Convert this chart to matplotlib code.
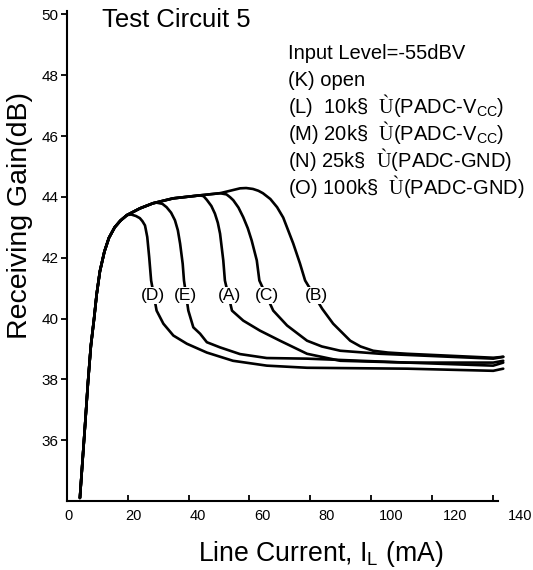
import numpy as np
import matplotlib
matplotlib.use("Agg")
import matplotlib.pyplot as plt

plt.rcParams['font.family'] = ['Liberation Sans', 'DejaVu Sans']
plt.rcParams['mathtext.fontset'] = 'custom'
plt.rcParams['mathtext.rm'] = 'Liberation Serif'
plt.rcParams['mathtext.sf'] = 'Liberation Sans'

# shared rising part of all curves (line current mA, gain dB)
rise_x = [3.4, 4.2, 5.0, 5.9, 6.8, 7.8, 8.6, 9.6, 11.0, 12.4, 14.2, 16.0, 18.0,
          22.0, 26.1, 32.3, 40.7, 46.9, 53.1]
rise_y = [34.1, 35.3, 36.5, 37.9, 39.1, 40.0, 40.8, 41.55, 42.2, 42.65, 43.0, 43.22, 43.4,
          43.62, 43.79, 43.95, 44.05, 44.12, 44.28]

# each curve leaves the rising part at its branch current
branch_at = {'D': 18.0, 'E': 26.1, 'A': 40.7, 'C': 46.9, 'B': 53.1}

d_x = [19.3, 20.8, 22.0, 22.8, 23.6, 23.9, 24.3, 24.9, 25.5, 27.2, 29.3, 32.4, 36.6,
       42.8, 50.9, 61.4, 73.9, 105, 131.7, 134.8]
d_y = [43.42, 43.37, 43.3, 43.2, 43.06, 42.9, 42.68, 42.02, 41.25, 40.26, 39.83, 39.44, 39.17,
       38.88, 38.61, 38.45, 38.38, 38.35, 38.28, 38.35]

e_x = [27.2, 29.0, 30.3, 31.7, 32.9, 33.8, 34.5, 35.3, 35.7, 37.05, 38.6, 40.7, 42.8,
       46.9, 53.1, 61.4, 73.9, 105, 131.7, 134.8]
e_y = [43.81, 43.77, 43.66, 43.48, 43.23, 42.9, 42.46, 41.80, 41.25, 40.26, 39.71, 39.50, 39.22,
       39.05, 38.83, 38.70, 38.68, 38.55, 38.45, 38.55]

a_x = [41.8, 42.8, 44.2, 45.3, 46.2, 46.9, 47.9, 48.4, 50.6, 54.1, 59.3, 65.5, 73.9,
       84.2, 105, 131.7, 134.8]
a_y = [44.02, 43.9, 43.7, 43.45, 43.15, 42.79, 41.91, 41.25, 40.26, 39.93, 39.60, 39.27, 38.84,
       38.61, 38.55, 38.55, 38.61]

c_x = [48.9, 50.0, 51.0, 52.6, 54.1, 55.5, 56.7, 58.3, 59.1, 63.4, 67.7, 73.9, 78.5,
       84.2, 96.6, 131.7, 134.8]
c_y = [44.08, 43.99, 43.89, 43.65, 43.33, 42.97, 42.57, 41.91, 41.25, 40.26, 39.77, 39.27, 39.08,
       38.94, 38.84, 38.68, 38.74]

b_x = [55.0, 57.1, 58.8, 60.2, 62.5, 64.6, 66.5, 69.6, 71.7, 73.3, 78.6, 82.0, 87.3,
       90.5, 94.4, 99.0, 105, 131.7, 134.8]
b_y = [44.29, 44.26, 44.2, 44.12, 43.93, 43.66, 43.32, 42.47, 41.81, 41.25, 40.32, 39.83, 39.27,
       39.08, 38.94, 38.88, 38.84, 38.71, 38.74]

tails = {'D': (d_x, d_y), 'E': (e_x, e_y), 'A': (a_x, a_y), 'C': (c_x, c_y), 'B': (b_x, b_y)}

# curve labels (x position in mA, drawn at one gain level)
label_names = ['D', 'E', 'A', 'C', 'B']
label_x = [26.1, 36.0, 49.7, 61.5, 76.7]
label_y = 40.75

x_ticks = [0, 20, 40, 60, 80, 100, 120, 140]
y_ticks = [36, 38, 40, 42, 44, 46, 48, 50]

legend_lines = [
    "Input Level=-55dBV",
    "(K) open",
    r"(L)  10k§  $\mathrm{Ù}$(PADC-V$_{\mathsf{CC}}$)",
    r"(M) 20k§  $\mathrm{Ù}$(PADC-V$_{\mathsf{CC}}$)",
    r"(N) 25k§  $\mathrm{Ù}$(PADC-GND)",
    r"(O) 100k§  $\mathrm{Ù}$(PADC-GND)",
]

fig = plt.figure(figsize=(5.33, 5.70), dpi=100)
ax = fig.add_axes([0.1251, 0.1211, 0.8505, 0.859])

for name in label_names:
    n = rise_x.index(branch_at[name]) + 1
    tx, ty = tails[name]
    ax.plot(rise_x[:n] + tx, rise_y[:n] + ty, color='black', lw=1.9,
            solid_joinstyle='round', solid_capstyle='round', zorder=2)

for name, lx in zip(label_names, label_x):
    ax.text(lx, label_y, f"({name})", ha='center', va='center', fontsize=12.5,
            zorder=3, bbox=dict(facecolor='white', edgecolor='none', pad=0.6))

ax.set_xlim(-0.71, 140)
ax.set_ylim(34, 50.1)

for s in ['top', 'right']:
    ax.spines[s].set_visible(False)
ax.spines['left'].set_linewidth(1.5)
ax.spines['bottom'].set_linewidth(1.5)
ax.spines['bottom'].set_bounds(-0.71, 133.2)

# tick labels sit a little off the tick marks, as in the original sheet
ax.set_xticks(x_ticks)
ax.set_xticklabels([str(v) for v in x_ticks])
ax.tick_params(axis='x', which='major', length=0, pad=6, labelsize=10.5)
ax.set_xticks(np.arange(1, 8) * 18.91 - 0.71, minor=True)
ax.tick_params(axis='x', which='minor', direction='in', length=4, width=1.3)

ax.set_yticks(y_ticks)
ax.set_yticklabels([str(v) for v in y_ticks])
ax.tick_params(axis='y', direction='out', length=4, width=1.3, pad=2, labelsize=11)

fig.text(102 / 533, 1 - 27 / 570, "Test Circuit 5", fontsize=18.5, va='baseline', ha='left')

baselines = [59, 86, 113, 140, 167, 194]
for line, b in zip(legend_lines, baselines):
    fig.text(288 / 533, 1 - b / 570, line, fontsize=14.5, va='baseline', ha='left')

fig.text(321 / 533, 1 - 561 / 570, r"Line Current, I$_{\mathsf{L}}$ (mA)", fontsize=19.2,
         ha='center', va='baseline')
fig.text(20 / 533, 1 - 215 / 570, "Receiving Gain(dB)", fontsize=20.5, rotation=90,
         ha='center', va='center')

fig.savefig('out.png', dpi=100)
